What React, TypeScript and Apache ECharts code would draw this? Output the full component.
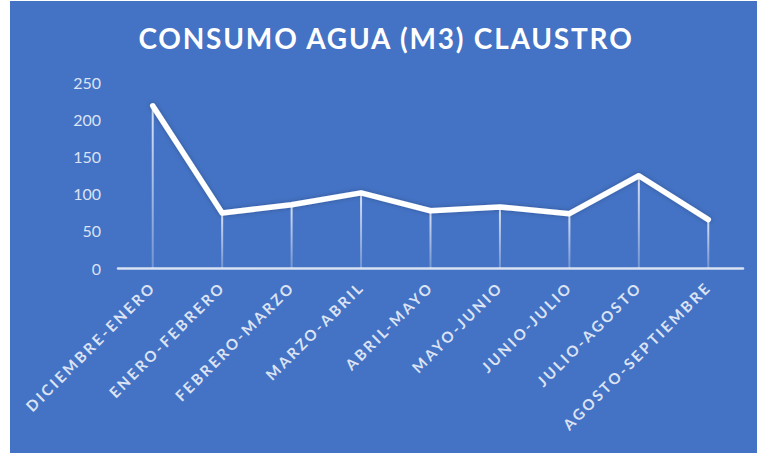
import React, { useEffect, useRef } from "react";
import * as echarts from "echarts";

const categories = [
  "DICIEMBRE-ENERO",
  "ENERO-FEBRERO",
  "FEBRERO-MARZO",
  "MARZO-ABRIL",
  "ABRIL-MAYO",
  "MAYO-JUNIO",
  "JUNIO-JULIO",
  "JULIO-AGOSTO",
  "AGOSTO-SEPTIEMBRE",
];
const consumo = [218, 74, 85, 101, 77, 82, 73, 124, 65];
const yTicks = [0, 50, 100, 150, 200, 250];
const titleText = "CONSUMO AGUA (M3) CLAUSTRO";

export default function App() {
  const ref = useRef<HTMLDivElement>(null);
  useEffect(() => {
    document.body.style.margin = "0";
    const chart = echarts.init(ref.current!, null, { renderer: "svg" });
    chart.setOption({
      animation: false,
      backgroundColor: "#4472C4",
      graphic: [
        {
          type: "text",
          x: 376,
          y: 37,
          style: {
            text: titleText,
            fill: "#ffffff",
            font: "bold 28px Lato",
            textAlign: "center",
            textVerticalAlign: "middle",
          },
        },
      ],
      grid: { left: 108, right: 14, top: 81, bottom: 185 },
      xAxis: {
        type: "category",
        data: categories,
        boundaryGap: true,
        axisLine: { lineStyle: { color: "#d9e2f3", width: 2.5 } },
        axisTick: { show: false },
        axisLabel: {
          rotate: 45,
          color: "#dbe3f4",
          fontFamily: "Lato",
          fontWeight: "bold",
          fontSize: 15,
          margin: 16,
          interval: 0,
        },
      },
      yAxis: {
        type: "value",
        min: yTicks[0],
        max: yTicks[yTicks.length - 1],
        interval: 50,
        axisLine: { show: false },
        axisTick: { show: false },
        splitLine: { show: false },
        axisLabel: {
          color: "#dbe3f4",
          fontFamily: "Lato",
          fontSize: 16,
          margin: 17,
        },
      },
      series: [
        {
          type: "bar",
          data: consumo,
          barWidth: 2,
          silent: true,
          itemStyle: {
            color: new echarts.graphic.LinearGradient(0, 0, 0, 1, [
              { offset: 0, color: "rgba(255,255,255,0.8)" },
              { offset: 1, color: "rgba(255,255,255,0.25)" },
            ]),
          },
        },
        {
          type: "line",
          data: consumo,
          showSymbol: false,
          lineStyle: {
            color: "#ffffff",
            width: 5.5,
            cap: "round",
            join: "round",
            shadowColor: "rgba(0,0,0,0.25)",
            shadowBlur: 4,
          },
        },
      ],
    });
    const svg = ref.current!.querySelector("svg");
    if (svg) {
      svg.querySelectorAll("text").forEach((t) => {
        const s = t.textContent || "";
        if (s === titleText) t.setAttribute("letter-spacing", "1.8");
        else if (categories.includes(s)) t.setAttribute("letter-spacing", "2.6");
      });
    }
    return () => chart.dispose();
  }, []);
  return (
    <div style={{ width: 757, height: 453, background: "#ffffff", position: "relative" }}>
      <div
        ref={ref}
        style={{ position: "absolute", left: 10, top: 1, width: 747, height: 452 }}
      />
    </div>
  );
}
